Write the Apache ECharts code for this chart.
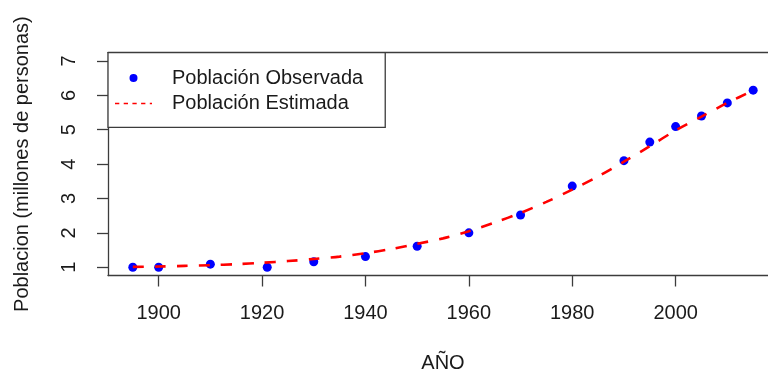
<!DOCTYPE html>
<html>
<head>
<meta charset="utf-8">
<script src="https://cdn.jsdelivr.net/npm/echarts@6/dist/echarts.min.js"></script>
<style>
  html, body { margin: 0; padding: 0; background: #fff; }
  #chart { width: 768px; height: 375px; }
</style>
</head>
<body>
<div id="chart"></div>
<script>
// Census years and observed population (millions)
const censusYears = [1895, 1900, 1910, 1921, 1930, 1940, 1950, 1960, 1970, 1980, 1990, 1995, 2000, 2005, 2010, 2015];
const observed = [1.00, 1.00, 1.09, 1.00, 1.16, 1.31, 1.61, 2.00, 2.52, 3.36, 4.10, 4.64, 5.09, 5.40, 5.78, 6.15];

// Fitted model evaluated every five years
const fitYears = [1895, 1900, 1905, 1910, 1915, 1920, 1925, 1930, 1935, 1940, 1945, 1950, 1955,
                  1960, 1965, 1970, 1975, 1980, 1985, 1990, 1995, 2000, 2005, 2010, 2015];
const estimated = [1.01, 1.02, 1.04, 1.06, 1.09, 1.13, 1.18, 1.24, 1.31, 1.41, 1.53, 1.68, 1.84,
                   2.05, 2.30, 2.58, 2.90, 3.26, 3.64, 4.07, 4.52, 4.98, 5.38, 5.78, 6.14];

// Axis ticks
const xTicks = [1900, 1920, 1940, 1960, 1980, 2000];
const yTicks = [1, 2, 3, 4, 5, 6, 7];

const FONT = '"Liberation Sans", Arial, sans-serif';
const INK = '#1a1a1a';
const FRAME = '#3c3c3c';

// Legend icons (52 x 8 box; hair-thin corner specks fix the bounding box)
const corners = 'M0,0h0.01v0.01h-0.01z M52,8h-0.01v-0.01h0.01z ';
const dotIcon = 'path://' + corners + 'M14.5,4a4,4 0 1,0 8,0a4,4 0 1,0 -8,0z';
const dashIcon = 'path://' + corners +
  'M0,3.2h4.3v1.6h-4.3z M8.7,3.2h4.3v1.6h-4.3z M17.4,3.2h4.3v1.6h-4.3z M26.1,3.2h4.3v1.6h-4.3z M34.8,3.2h2.2v1.6h-2.2z';

const chart = echarts.init(document.getElementById('chart'), null, { renderer: 'canvas' });

const frameLine = { show: true, lineStyle: { color: FRAME, width: 1.3 } };

chart.setOption({
  animation: false,
  backgroundColor: '#ffffff',
  textStyle: { fontFamily: FONT, color: INK },
  // the plot region runs a little past the right edge of the canvas
  grid: { left: 108, top: 52.7, width: 670, height: 222.8, show: false, outerBoundsMode: 'none' },
  legend: {
    orient: 'vertical',
    left: 108, top: 52.7,
    padding: [13.3, 22, 11.8, 7],
    itemGap: 1.5,
    itemWidth: 52, itemHeight: 8,
    borderColor: FRAME, borderWidth: 1.3,
    backgroundColor: '#ffffff',
    textStyle: { fontSize: 20, lineHeight: 24, color: INK, fontFamily: FONT },
    data: [
      { name: 'Población Observada', icon: dotIcon, itemStyle: { color: '#0000ff', opacity: 1 } },
      { name: 'Población Estimada', icon: dashIcon, itemStyle: { color: '#ff0000', opacity: 1 } }
    ]
  },
  xAxis: [
    {
      type: 'value',
      position: 'bottom',
      min: 1890.2, max: 2019.8,
      name: 'AÑO',
      nameLocation: 'middle',
      nameGap: 77.5,
      nameTextStyle: { fontSize: 20, color: INK, fontFamily: FONT },
      axisLine: frameLine,
      axisTick: { show: true, length: 11, customValues: xTicks, lineStyle: { color: FRAME, width: 1.3 } },
      axisLabel: {
        customValues: xTicks, margin: 28, fontSize: 20, color: INK, fontFamily: FONT,
        formatter: v => String(v)
      },
      splitLine: { show: false }
    },
    {
      // top edge of the plot frame
      type: 'value',
      position: 'top',
      min: 1890.2, max: 2019.8,
      axisLine: frameLine,
      axisTick: { show: false },
      axisLabel: { show: false },
      splitLine: { show: false }
    }
  ],
  yAxis: {
    type: 'value',
    min: 0.76, max: 7.24,
    name: 'Poblacion (millones de personas)',
    nameLocation: 'middle',
    nameGap: 76,
    nameTextStyle: { fontSize: 20, color: INK, fontFamily: FONT },
    axisLine: frameLine,
    axisTick: { show: true, length: 11, customValues: yTicks, lineStyle: { color: FRAME, width: 1.3 } },
    axisLabel: { customValues: yTicks, rotate: 90, margin: 28.5, fontSize: 20, color: INK, fontFamily: FONT },
    splitLine: { show: false }
  },
  series: [
    {
      name: 'Población Observada',
      type: 'scatter',
      data: censusYears.map((y, i) => [y, observed[i]]),
      symbol: 'circle',
      symbolSize: 9,
      itemStyle: { color: '#0000ff', opacity: 1 },
      z: 2
    },
    {
      name: 'Población Estimada',
      type: 'line',
      data: fitYears.map((y, i) => [y, estimated[i]]),
      smooth: 0.3,
      symbol: 'none',
      lineStyle: { color: '#ff0000', width: 2.6, type: [11, 11] },
      itemStyle: { color: '#ff0000' },
      z: 3
    }
  ]
});
</script>
</body>
</html>
